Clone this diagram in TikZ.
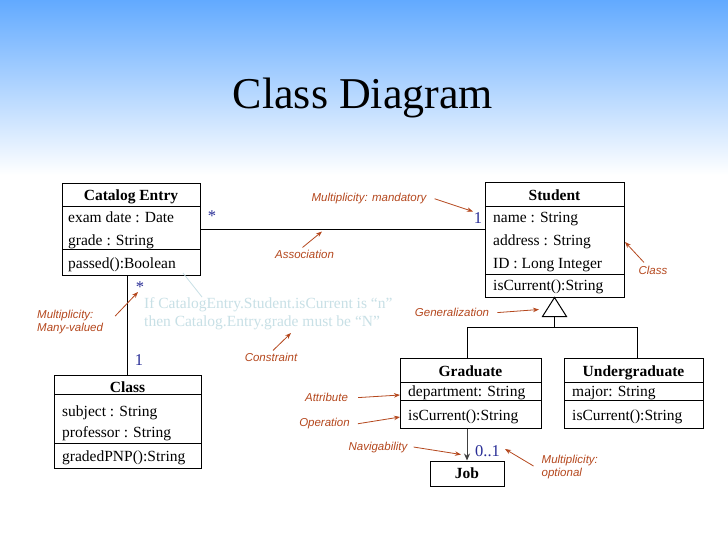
\documentclass[tikz,border=0pt]{standalone}
\usepackage{fontspec}
\setmainfont{Liberation Serif}
\newfontfamily\annofont{Liberation Sans}
\usetikzlibrary{arrows.meta,calc}
\definecolor{anno}{RGB}{181,72,30}
\definecolor{mult}{RGB}{40,45,150}
\definecolor{cons}{RGB}{200,224,230}
\definecolor{skytop}{RGB}{98,170,255}
\begin{document}
\begin{tikzpicture}[x=1pt,y=-1pt,
  box/.style={draw,line width=1pt,inner sep=0pt,rectangle},
  sep/.style={line width=1pt},
  ctitle/.style={font=\fontsize{15.5}{18}\selectfont\bfseries,anchor=base,inner sep=0pt},
  attr/.style={font=\fontsize{15.5}{18}\selectfont,anchor=base west,inner sep=0pt},
  note/.style={font=\annofont\itshape\fontsize{11.5}{13.5}\selectfont,text=anno,anchor=base,inner sep=0pt},
  notetwo/.style={font=\annofont\itshape\fontsize{11.5}{13.5}\selectfont,text=anno,anchor=west,inner sep=0pt,align=left},
  notearrow/.style={draw=anno,line width=0.8pt,-{Stealth[length=6pt,width=4.5pt]}},
  multi/.style={font=\fontsize{16.5}{18}\selectfont,text=mult,anchor=base,inner sep=0pt},
  link/.style={draw,line width=1pt},
  constr/.style={font=\fontsize{15.5}{18}\selectfont,text=cons,anchor=base west,inner sep=0pt}
]
\useasboundingbox (0,0) rectangle (728,546);
\fill[white] (0,0) rectangle (728,546);
\shade[top color=skytop,bottom color=white] (0,0) rectangle (728,175);

% title
\node[font=\fontsize{44}{50}\selectfont,anchor=base,inner sep=0pt] (title) at (363,108) {Class Diagram};

% class boxes
\node[box,minimum width=138pt,minimum height=92pt] (catalog) at (131,229) {};
\node[box,minimum width=139pt,minimum height=115pt] (student) at (554.5,239.5) {};
\node[box,minimum width=147pt,minimum height=93pt] (class) at (127.5,421.5) {};
\node[box,minimum width=141pt,minimum height=70pt] (grad) at (470.5,393) {};
\node[box,minimum width=139pt,minimum height=70pt] (under) at (633.5,393) {};
\node[box,minimum width=74pt,minimum height=25pt] (job) at (467,473.5) {};

% separators
\draw[sep] (62,206) -- (200,206);
\draw[sep] (62,249) -- (200,249);
\draw[sep] (485,206) -- (624,206);
\draw[sep] (485,274) -- (624,274);
\draw[sep] (54,394) -- (201,394);
\draw[sep] (54,443) -- (201,443);
\draw[sep] (400,382) -- (541,382);
\draw[sep] (400,400) -- (541,400);
\draw[sep] (564,382) -- (703,382);
\draw[sep] (564,400) -- (703,400);

% class texts
\node[ctitle] (catT) at (131,200) {Catalog Entry};
\node[attr] (cat1) at (68,222.5) {exam date : Date};
\node[attr] (cat2) at (68,245) {grade : String};
\node[attr] (cat3) at (68,268) {passed():Boolean};

\node[ctitle] (stuT) at (554.5,200) {Student};
\node[attr] (stu1) at (493,222.5) {name : String};
\node[attr] (stu2) at (493,245) {address : String};
\node[attr] (stu3) at (493,268) {ID : Long Integer};
\node[attr] (stu4) at (493,290.5) {isCurrent():String};

\node[ctitle] (claT) at (127.5,392) {Class};
\node[attr] (cla1) at (62,416) {subject : String};
\node[attr] (cla2) at (62,437.5) {professor : String};
\node[attr] (cla3) at (62,461) {gradedPNP():String};

\node[ctitle] (graT) at (470.5,376) {Graduate};
\node[attr] (gra1) at (408,396.5) {department: String};
\node[attr] (gra2) at (408,420.5) {isCurrent():String};

\node[ctitle] (undT) at (633.5,376) {Undergraduate};
\node[attr] (und1) at (572,396.5) {major: String};
\node[attr] (und2) at (572,420.5) {isCurrent():String};

\node[ctitle] (jobT) at (467,478) {Job};

% connectors
\draw[link] (catalog.east) -- (catalog.east -| student.west);
\draw[link] (class.north |- catalog.south) -- (class.north);
\coordinate (apex) at (student.south);
\draw[link] (apex) -- ++(-12,19) -- ++(24,0) -- cycle;
\coordinate (tribase) at ($(apex)+(0,19)$);
\coordinate (junc) at ($(tribase)+(0,11)$);
\draw[link] (tribase) -- (junc);
\draw[link] ([xshift=-3.5pt]grad.north) |- (junc) -| ([xshift=3.5pt]under.north);
\draw[line width=1pt,draw=black!75,-{Stealth[length=7pt,width=6pt]}] (grad.south -| job.north) -- (job.north);

% multiplicities
\node[multi] (m1) at (212,221) {*};
\node[multi] (m2) at (478,223) {1};
\node[multi] (m3) at (140,292.5) {*};
\node[multi] (m4) at (139,365) {1};
\node[multi] (m5) at (487.5,456) {0..1};

% constraint
\node[constr] (con1) at (144,308) {If CatalogEntry.Student.isCurrent is “n”};
\node[constr] (con2) at (144,326) {then Catalog.Entry.grade must be “N”};
\coordinate (conline) at (183,273);
\coordinate (conend) at (202,297);
\draw[cons,line width=0.8pt] (conline) -- (conend);

% annotations
\node[note] (nmand) at (369,201.7) {Multiplicity: mandatory};
\coordinate (tmand) at (473,211.5);
\draw[notearrow] ([xshift=8pt]nmand.east) -- (tmand);

\node[note] (nassoc) at (304.5,258) {Association};
\coordinate (tassoc) at (322,231.5);
\draw[notearrow] ([xshift=-2pt,yshift=2pt]nassoc.north) -- (tassoc);

\node[note] (nclass) at (653,274) {Class};
\coordinate (tclass) at (625,242);
\draw[notearrow] ([xshift=-9pt,yshift=3pt]nclass.north) -- (tclass);

\node[notetwo] (nmany) at (37,322) {Multiplicity:\\Many-valued};
\coordinate (tmany) at (138,292);
\draw[notearrow] ([xshift=12pt,yshift=6pt]nmany.east) -- (tmany);

\node[note] (ncons) at (271,361) {Constraint};
\coordinate (tcons) at (291,333);
\draw[notearrow] ([xshift=2pt,yshift=2pt]ncons.north) -- (tcons);

\node[note] (ngen) at (452,316.7) {Generalization};
\coordinate (tgen) at (539,309.5);
\draw[notearrow] ([xshift=8pt]ngen.east) -- (tgen);

\node[note] (nattr) at (326.5,401.7) {Attribute};
\coordinate (tattr) at (400,395);
\draw[notearrow] ([xshift=10pt]nattr.east) -- (tattr);

\node[note] (nop) at (324.5,426.7) {Operation};
\coordinate (top) at (400,417);
\draw[notearrow] ([xshift=8pt]nop.east) -- (top);

\node[note] (nnav) at (378,450) {Navigability};
\coordinate (tnav) at (461,454.5);
\draw[notearrow] ([xshift=6pt]nnav.east) -- (tnav);

\node[notetwo] (nopt) at (541.5,467) {Multiplicity:\\optional};
\coordinate (topt) at (505,449);
\draw[notearrow] ([xshift=-8pt,yshift=1pt]nopt.west) -- (topt);
\end{tikzpicture}
\end{document}
